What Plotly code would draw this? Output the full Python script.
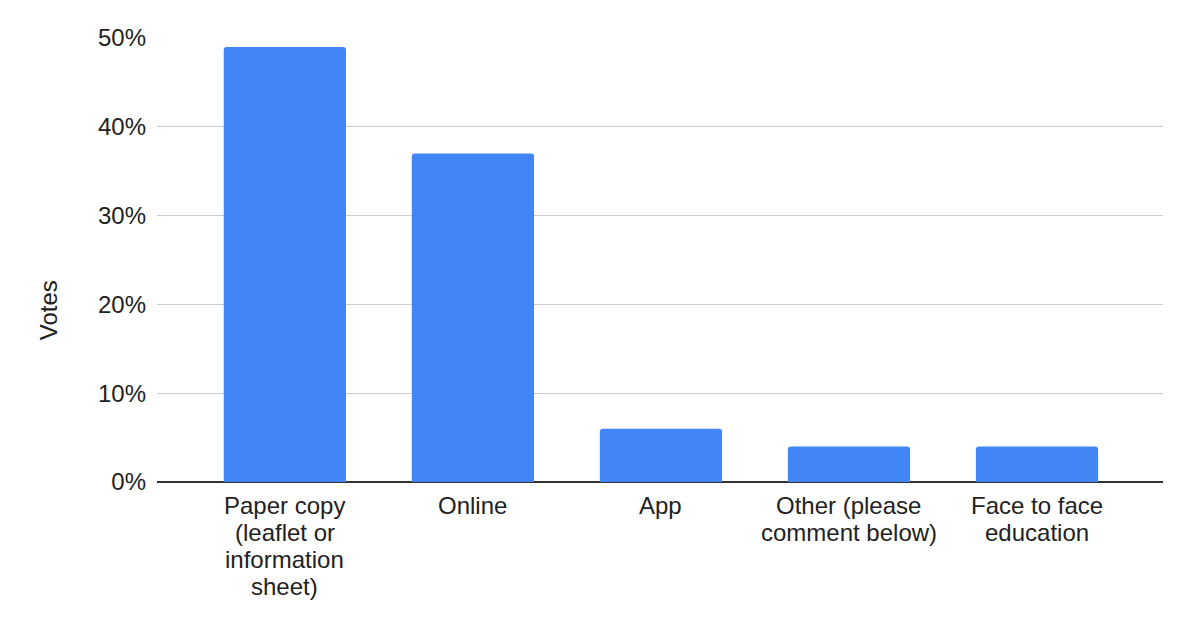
import plotly.graph_objects as go

categories = ["Paper copy (leaflet or information sheet)", "Online", "App",
              "Other (please comment below)", "Face to face education"]
tick_lines = [["Paper copy", "(leaflet or", "information", "sheet)"],
              ["Online"], ["App"],
              ["Other (please", "comment below)"],
              ["Face to face", "education"]]
votes = [0.49, 0.37, 0.06, 0.04, 0.04]
y_ticks = [0, 0.1, 0.2, 0.3, 0.4, 0.5]
y_tick_labels = ["0%", "10%", "20%", "30%", "40%", "50%"]

FONT = "Liberation Sans, Arial, sans-serif"
FS = 24
LINE_H = 27

fig = go.Figure(go.Bar(
    x=categories, y=votes,
    marker=dict(color="#4285F4", cornerradius=3, line=dict(width=0)),
    hovertemplate="%{x}: %{y:.0%}<extra></extra>",
))

fig.update_layout(
    width=1200, height=627,
    margin=dict(l=149, r=45, t=30, b=153),
    paper_bgcolor="white", plot_bgcolor="white",
    bargap=0.35,
    showlegend=False,
    font=dict(family=FONT, size=FS, color="#222222"),
)
fig.update_xaxes(
    range=[-0.68, 4.67],
    showgrid=False, showline=False, zeroline=False,
    ticks="", showticklabels=False,
)
fig.update_yaxes(
    range=[0, 0.5],
    tickmode="array", tickvals=y_ticks, ticktext=y_tick_labels,
    showgrid=True, gridcolor="#cccccc", gridwidth=1,
    zeroline=True, zerolinecolor="#333333", zerolinewidth=2,
    showline=False, ticks="",
    tickfont=dict(size=FS, color="#222222"),
    ticklabelstandoff=10,
)
# category labels (tight line spacing like the original)
for cat, lines in zip(categories, tick_lines):
    for i, line in enumerate(lines):
        fig.add_annotation(
            text=line, x=cat, y=0, xref="x", yref="y",
            xanchor="center", yanchor="middle",
            yshift=-(23 + LINE_H * i), showarrow=False,
            font=dict(family=FONT, size=FS, color="#222222"),
        )
fig.add_annotation(
    text="Votes", textangle=-90,
    xref="paper", yref="paper", x=0, y=0.387,
    xshift=-109, xanchor="center", yanchor="middle",
    showarrow=False, font=dict(family=FONT, size=FS, color="#222222"),
)

fig.write_html("out.html")
